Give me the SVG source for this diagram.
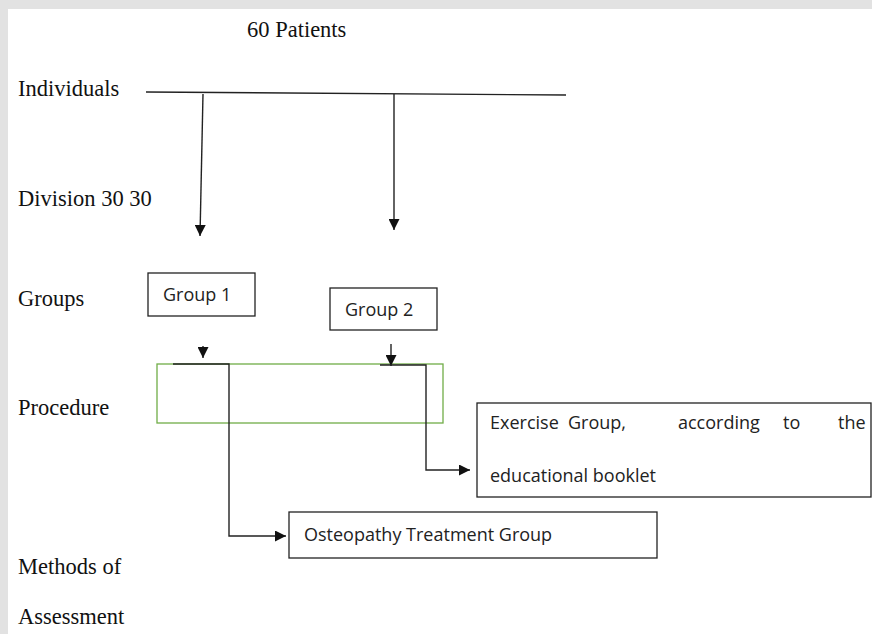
<svg xmlns="http://www.w3.org/2000/svg" width="872" height="634" viewBox="0 0 872 634">
<style>
.lbl{font-family:"Liberation Serif","Times New Roman",serif;font-size:22.5px;fill:#111}
.sans{font-family:"Open Sans","Liberation Sans",Arial,sans-serif;font-size:18px;fill:#222}
.box{fill:#fff;stroke:#222;stroke-width:1.3}
.ln{fill:none;stroke:#222;stroke-width:1.4}
</style>
<defs>
<marker id="ah" viewBox="0 0 10 10" refX="10" refY="5" markerWidth="11" markerHeight="11" markerUnits="userSpaceOnUse" orient="auto">
<path d="M0,0 L10,5 L0,10 z" fill="#111"/>
</marker>
</defs>
<rect x="0" y="0" width="872" height="634" fill="#e2e2e2"/>
<rect x="8" y="9" width="864" height="625" fill="#fff"/>
<g id="labels">
<text class="lbl" x="247" y="37">60 Patients</text>
<text class="lbl" x="18" y="96">Individuals</text>
<text class="lbl" x="18" y="206">Division 30 30</text>
<text class="lbl" x="18" y="306">Groups</text>
<text class="lbl" x="18" y="415">Procedure</text>
<text class="lbl" x="18" y="574">Methods of</text>
<text class="lbl" x="18" y="624">Assessment</text>
</g>
<g id="procedure">
<rect x="157" y="364" width="286" height="59" fill="none" stroke="#70ad47" stroke-width="1.3"/>
</g>
<g id="group1">
<rect class="box" x="148" y="273" width="107" height="43"/>
<text class="sans" x="163" y="301">Group 1</text>
</g>
<g id="group2">
<rect class="box" x="330" y="288" width="107" height="42"/>
<text class="sans" x="345" y="316">Group 2</text>
</g>
<g id="exercise">
<rect class="box" x="477" y="403" width="394" height="94"/>
<text class="sans" x="490" y="429">Exercise</text>
<text class="sans" x="568" y="429">Group,</text>
<text class="sans" x="678" y="429">according</text>
<text class="sans" x="783" y="429">to</text>
<text class="sans" x="838" y="429">the</text>
<text class="sans" x="490" y="482">educational booklet</text>
</g>
<g id="osteopathy">
<rect class="box" x="289" y="512" width="368" height="46"/>
<text class="sans" x="304" y="541">Osteopathy Treatment Group</text>
</g>
<g id="connectors">
<path class="ln" d="M146,92 L566,95"/>
<path class="ln" d="M203,94 L200,236" marker-end="url(#ah)"/>
<path class="ln" d="M394,94 L394,230" marker-end="url(#ah)"/>
<path class="ln" d="M203,346 L203,358" marker-end="url(#ah)"/>
<path class="ln" d="M391,344 L391,366" marker-end="url(#ah)"/>
<path class="ln" d="M173,364 L229,364 L229,536 L286,536" marker-end="url(#ah)"/>
<path class="ln" d="M380,365 L426,365 L426,470 L470,470" marker-end="url(#ah)"/>
</g>
</svg>
